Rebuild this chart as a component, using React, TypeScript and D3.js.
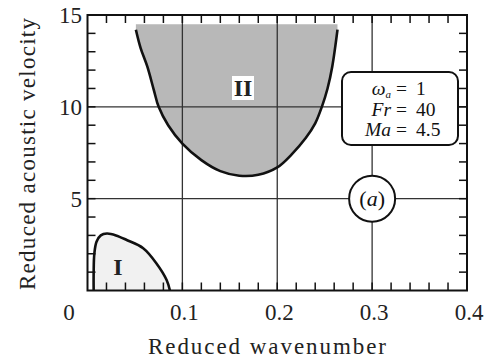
import React from 'react';
import * as d3 from 'd3';

// region II boundary (upper instability tongue)
const curveIIx = [0.051, 0.056, 0.063, 0.07, 0.075, 0.085, 0.1, 0.12, 0.14, 0.16, 0.18, 0.2, 0.215, 0.23, 0.24, 0.247, 0.253, 0.258, 0.2635];
const curveIIy = [14.2, 13.2, 12.2, 10.9, 10.0, 9.0, 8.0, 7.1, 6.5, 6.25, 6.3, 6.7, 7.4, 8.3, 9.1, 10.0, 11.0, 12.2, 14.2];

// region I boundary (small lobe near origin)
const curveIx = [0.0065, 0.0065, 0.0072, 0.0095, 0.014, 0.0205, 0.03, 0.0413, 0.0587, 0.0729, 0.0834, 0.0869];
const curveIy = [0, 1.0, 2.0, 2.65, 3.0, 3.1, 3.0, 2.75, 2.3, 1.46, 0.57, 0];

const xTickLabels = ['0.1', '0.2', '0.3', '0.4'];
const xTickValues = [0.1, 0.2, 0.3, 0.4];
const yTickLabels = ['5', '10', '15'];
const yTickValues = [5, 10, 15];
const xGrid = [0.1, 0.2, 0.3];
const yGrid = [5, 10];

const legendLeft = ['ω', 'Fr', 'Ma'];
const legendRight = ['1', '40', '4.5'];

const W = 486;
const H = 363;
const serif = '"Liberation Serif", "Times New Roman", Times, serif';

export default function App() {
  const x = d3.scaleLinear().domain([0, 0.4]).range([87.5, 467]);
  const y = d3.scaleLinear().domain([0, 15]).range([290.5, 15]);

  const line = d3.line<[number, number]>()
    .x(d => x(d[0]))
    .y(d => y(d[1]))
    .curve(d3.curveCatmullRom);

  const ptsII: [number, number][] = curveIIx.map((v, i) => [v, curveIIy[i]]);
  const ptsI: [number, number][] = curveIx.map((v, i) => [v, curveIy[i]]);

  const pathII = line(ptsII) || '';
  const pathI = line(ptsI) || '';
  // shading runs a bit above the curve ends, up to about 14.5
  const fillII = pathII + `L${x(curveIIx[curveIIx.length - 1])},${y(14.5)}L${x(curveIIx[0])},${y(14.5)}Z`;
  const fillI = pathI + 'Z';

  const minorX = d3.range(0.02, 0.4, 0.02);
  const minorY = d3.range(1, 15, 1);
  const tk = 8;

  const [x0, x1] = x.range();
  const [y0, y1] = y.range();

  return (
    <svg width={W} height={H} style={{ position: 'absolute', left: 0, top: 0, background: '#fff', fontFamily: serif }}>
      <path d={fillII} fill="#b8b8b8" />
      <path d={fillI} fill="#f1f1f1" />

      {xGrid.map(v => (
        <line key={'gx' + v} x1={x(v)} x2={x(v)} y1={y0} y2={y1} stroke="#333" strokeWidth={1.3} />
      ))}
      {yGrid.map(v => (
        <line key={'gy' + v} x1={x0} x2={x1} y1={y(v)} y2={y(v)} stroke="#333" strokeWidth={1.3} />
      ))}

      {minorX.map(v => (
        <g key={'mx' + v}>
          <line x1={x(v)} x2={x(v)} y1={y0} y2={y0 - tk} stroke="#111" strokeWidth={1.5} />
          <line x1={x(v)} x2={x(v)} y1={y1} y2={y1 + tk} stroke="#111" strokeWidth={1.5} />
        </g>
      ))}
      {minorY.map(v => (
        <g key={'my' + v}>
          <line x1={x0} x2={x0 + tk} y1={y(v)} y2={y(v)} stroke="#111" strokeWidth={1.5} />
          <line x1={x1} x2={x1 - tk} y1={y(v)} y2={y(v)} stroke="#111" strokeWidth={1.5} />
        </g>
      ))}

      <path d={pathII} fill="none" stroke="#111" strokeWidth={2.6} strokeLinejoin="round" />
      <path d={pathI} fill="none" stroke="#111" strokeWidth={2.6} strokeLinejoin="round" />

      <rect x={x0} y={y1} width={x1 - x0} height={y0 - y1} fill="none" stroke="#111" strokeWidth={2} />

      {/* region labels */}
      <rect x={232} y={76} width={22} height={24} fill="#fff" />
      <text x={243} y={96} textAnchor="middle" fontSize={24} fontWeight="bold" fill="#222">II</text>
      <text x={118} y={275} textAnchor="middle" fontSize={24} fontWeight="bold" fill="#222">I</text>

      {/* parameter box */}
      <rect x={342} y={72} width={116} height={73} rx={9} fill="#fff" stroke="#111" strokeWidth={2} />
      {legendLeft.map((s, i) => {
        const by = 95 + i * 20.5;
        return (
          <text key={'lg' + i} y={by} fontSize={19.5} fill="#111">
            <tspan x={391} textAnchor="end" fontStyle="italic">
              {s}
              {i === 0 && <tspan fontSize={11} dy={3}>a</tspan>}
            </tspan>
            <tspan x={396} y={by}>=</tspan>
            <tspan x={416}>{legendRight[i]}</tspan>
          </text>
        );
      })}

      {/* panel tag */}
      <circle cx={x(0.3)} cy={y(5)} r={23} fill="#fff" stroke="#111" strokeWidth={2} />
      <text x={x(0.3)} y={y(5) + 7} textAnchor="middle" fontSize={22} fill="#111">
        (<tspan fontStyle="italic">a</tspan>)
      </text>

      {/* axis labels */}
      {xTickValues.map((v, i) => (
        <text key={'xt' + v} x={x(v) + 2} y={320} textAnchor="middle" fontSize={23} fill="#222">{xTickLabels[i]}</text>
      ))}
      <text x={69} y={320} textAnchor="middle" fontSize={23} fill="#222">0</text>
      {yTickValues.map((v, i) => (
        <text key={'yt' + v} x={82} y={y(v) + 8} textAnchor="end" fontSize={23} fill="#222">{yTickLabels[i]}</text>
      ))}

      <text x={267} y={354} textAnchor="middle" fontSize={23} textLength={238} lengthAdjust="spacing" fill="#222">Reduced wavenumber</text>
      <text transform={`translate(35,${154}) rotate(-90)`} textAnchor="middle" fontSize={23} textLength={272} lengthAdjust="spacing" fill="#222">Reduced acoustic velocity</text>
    </svg>
  );
}
